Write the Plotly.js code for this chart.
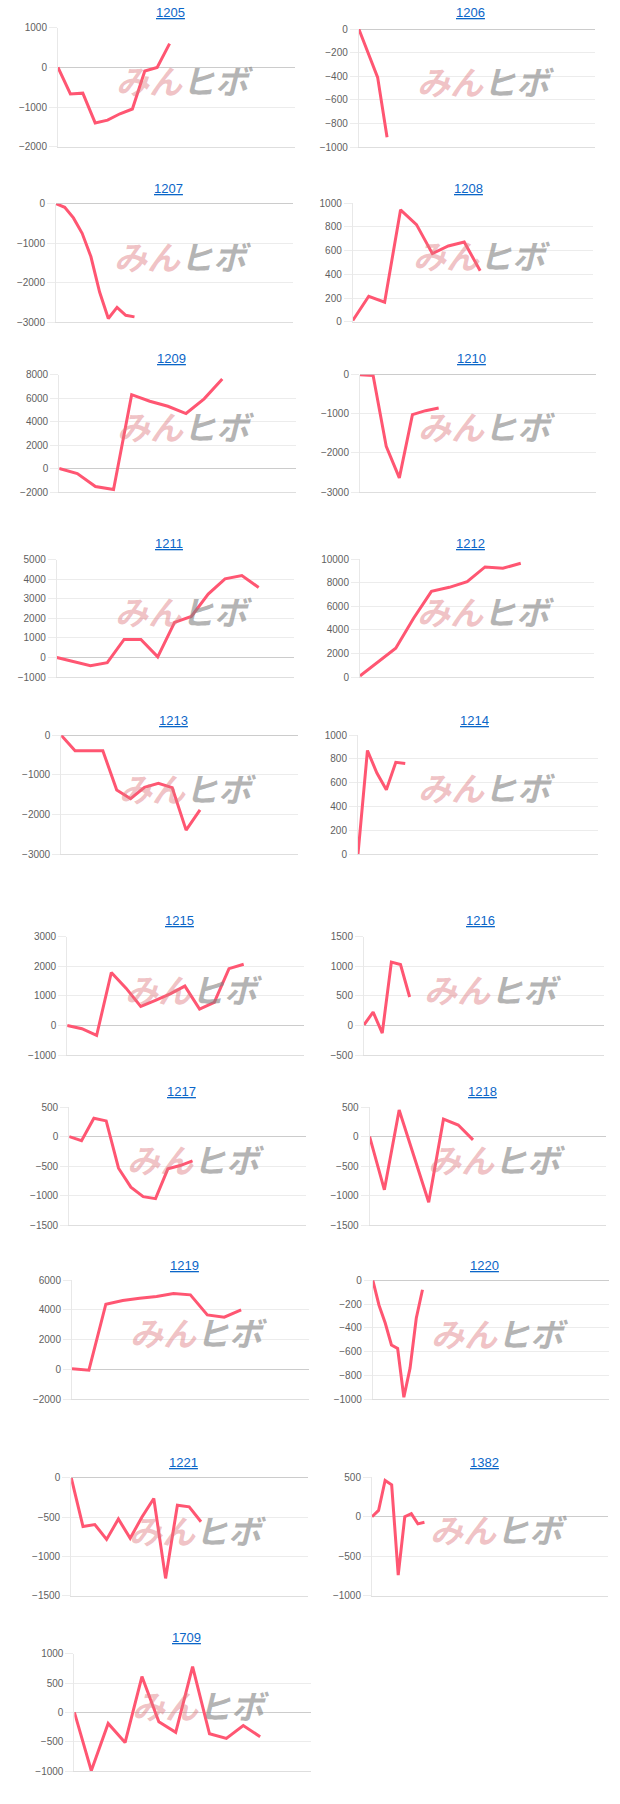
<!DOCTYPE html>
<html>
<head>
<meta charset="utf-8">
<script src="https://cdn.plot.ly/plotly-3.0.1.min.js"></script>
<style>
  html, body { margin: 0; padding: 0; background: #ffffff; }
  #chart { width: 620px; height: 1804px; }
</style>
</head>
<body>
<div id="chart"></div>
<script>
// ---- data ----
const codes = ['1205','1206','1207','1208','1209','1210','1211','1212','1213','1214',
               '1215','1216','1217','1218','1219','1220','1221','1382','1709'];

const s1205 = [0, -670, -650, -1400, -1330, -1170, -1050, -90, 0, 600];
const s1206 = [0, -205, -410, -918];
const s1207 = [0, -90, -360, -750, -1340, -2240, -2910, -2630, -2830, -2870];
const s1208 = [10, 215, 165, 945, 820, 575, 640, 673, 430];
const s1209 = [0, -430, -1530, -1790, 6300, 5740, 5310, 4690, 5940, 7640];
const s1210 = [0, -20, -1830, -2640, -1020, -920, -850];
const s1211 = [0, -210, -420, -270, 920, 920, 30, 1790, 2100, 3240, 4020, 4190, 3580];
const s1212 = [90, 1300, 2440, 4990, 7280, 7620, 8100, 9350, 9240, 9660];
const s1213 = [0, -390, -390, -390, -1380, -1600, -1310, -1210, -1320, -2390, -1880];
const s1214 = [0, 870, 680, 540, 770, 760];
const s1215 = [0, -110, -340, 1790, 1260, 640, 850, 1070, 1330, 550, 780, 1920, 2070];
const s1216 = [10, 225, -130, 1070, 1030, 480];
const s1217 = [0, -70, 310, 265, -535, -855, -1015, -1050, -545, -490, -410];
const s1218 = [0, -900, 450, -330, -1110, 295, 195, -55];
const s1219 = [40, -60, 4370, 4620, 4770, 4890, 5090, 5000, 3650, 3500, 3990];
const s1220 = [0, -210, -360, -545, -575, -985, -740, -320, -80];
const s1221 = [0, -620, -595, -785, -525, -770, -500, -265, -1280, -350, -370, -560];
const s1382 = [0, 80, 460, 405, -740, 0, 40, -90, -70];
const s1709 = [0, -995, -190, -515, 610, -160, -340, 780, -365, -445, -225, -415];

const allSeries = [s1205, s1206, s1207, s1208, s1209, s1210, s1211, s1212, s1213, s1214,
                   s1215, s1216, s1217, s1218, s1219, s1220, s1221, s1382, s1709];

// y-axis scale per panel: min, max, tick step
const yMin  = [-2000, -1000, -3000,    0, -2000, -3000, -1000,     0, -3000,    0, -1000, -500, -1500, -1500, -2000, -1000, -1500, -1000, -1000];
const yMax  = [ 1000,     0,     0, 1000,  8000,     0,  5000, 10000,     0, 1000,  3000, 1500,   500,   500,  6000,     0,     0,   500,  1000];
const yStep = [ 1000,   200,  1000,  200,  2000,  1000,  1000,  2000,  1000,  200,  1000,  500,   500,   500,  2000,   200,   500,   500,   500];
// number of x slots spanned by each panel's width
const xSpan = [19.1, 25.1, 27.2, 15.1, 13.07, 18.0, 14.1, 13.1, 17.06, 25.4, 16.1, 26.3, 19.2, 16.0, 14.0, 38, 20.07, 36, 14.0];

// ---- panel geometry (pixels): left, right, top, bottom, titleX, titleY ----
const geom = [
  [58.0, 294.8, 27.7, 146.7, 170.0, 12.3],
  [358.8, 595.2, 29, 147, 470.4, 12.3],
  [56.0, 293.2, 203.7, 322, 168.4, 188],
  [352.8, 593.2, 203.3, 321.7, 468.8, 188],
  [59.2, 296.0, 374.7, 492, 171.6, 358],
  [360.0, 596.0, 374.7, 492, 472.0, 358],
  [56.8, 294.0, 559.7, 677, 169.2, 543.3],
  [360.0, 594.0, 559.3, 677, 470.0, 543.3],
  [61.2, 298.0, 735.3, 854.3, 173.6, 720],
  [358.0, 598.0, 735, 854, 474.0, 720],
  [67.2, 304.0, 936.7, 1055, 179.6, 920.7],
  [364.0, 604.0, 936.7, 1055, 480.0, 920.7],
  [69.2, 306.0, 1107, 1225.3, 181.6, 1091],
  [369.6, 606.0, 1107, 1225.3, 482.0, 1091],
  [72.0, 308.8, 1280, 1399, 184.4, 1265],
  [372.8, 608.8, 1280.3, 1399, 484.8, 1265],
  [71.2, 308.0, 1477.7, 1595.7, 183.2, 1462.3],
  [372.0, 608.0, 1477.3, 1595.7, 484.0, 1462.3],
  [74.4, 310.8, 1653.7, 1771, 186.4, 1637]
];

const W = 620, H = 1804;
const FONT = '"Liberation Sans", Arial, sans-serif';
const traces = [];
const layout = {
  width: W, height: H,
  margin: {l: 0, r: 0, t: 0, b: 0},
  paper_bgcolor: '#ffffff', plot_bgcolor: '#ffffff',
  showlegend: false,
  font: {family: FONT, size: 10, color: '#5f5f5f'},
  annotations: []
};

codes.forEach((code, i) => {
  const n = i + 1;
  const xa = n === 1 ? 'x' : 'x' + n;
  const ya = n === 1 ? 'y' : 'y' + n;
  const xKey = n === 1 ? 'xaxis' : 'xaxis' + n;
  const yKey = n === 1 ? 'yaxis' : 'yaxis' + n;
  const g = geom[i];
  const vals = allSeries[i];

  traces.push({
    type: 'scatter', mode: 'lines',
    x: vals.map((v, k) => k), y: vals,
    xaxis: xa, yaxis: ya,
    line: {color: 'rgb(255,86,114)', width: 3},
    hoverinfo: 'skip'
  });

  layout[xKey] = {
    domain: [g[0] / W, g[1] / W],
    anchor: ya,
    range: [0, xSpan[i]],
    showgrid: false, zeroline: false, showticklabels: false, ticks: '',
    showline: true, linecolor: '#dedede', linewidth: 1,
    fixedrange: true
  };
  layout[yKey] = {
    domain: [1 - g[3] / H, 1 - g[2] / H],
    anchor: xa,
    range: [yMin[i], yMax[i]],
    tick0: 0, dtick: yStep[i], tickmode: 'linear',
    tickformat: 'd',
    showgrid: true, gridcolor: '#ececec', gridwidth: 1,
    zeroline: true, zerolinecolor: '#cccccc', zerolinewidth: 1,
    showline: true, linecolor: '#e8e8e8', linewidth: 1,
    ticks: 'outside', ticklen: 8, tickcolor: '#ececec', tickwidth: 1,
    tickfont: {family: FONT, size: 10, color: '#5f5f5f'},
    fixedrange: true
  };

  // title (link-style)
  layout.annotations.push({
    xref: 'paper', yref: 'paper',
    x: g[4] / W, y: 1 - g[5] / H,
    xanchor: 'center', yanchor: 'middle',
    text: '<u>' + code + '</u>',
    showarrow: false,
    font: {family: FONT, size: 13, color: '#0b66c8'}
  });

  // watermark
  layout.annotations.push({
    xref: xa + ' domain', yref: ya + ' domain',
    x: 0.535, y: 0.56,
    xanchor: 'center', yanchor: 'middle',
    text: '<b><i><span style="color:rgba(222,120,125,0.45)">みん</span><span style="color:rgba(130,130,130,0.6)">ヒボ</span></i></b>',
    showarrow: false,
    font: {family: '"Noto Sans CJK JP", sans-serif', size: 33}
  });
});

Plotly.newPlot('chart', traces, layout, {staticPlot: true, displayModeBar: false});
</script>
</body>
</html>
